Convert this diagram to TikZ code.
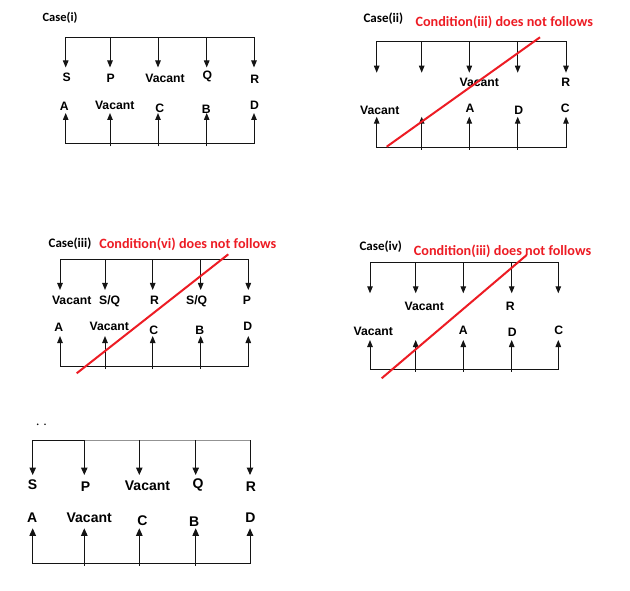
\documentclass[tikz,border=0pt]{standalone}
\usepackage{fontspec}
\newfontfamily\arialf{Liberation Sans}
\newfontfamily\calif{Carlito}
\usetikzlibrary{arrows.meta}
\definecolor{redx}{RGB}{237,28,36}
\definecolor{lnc}{RGB}{20,20,20}
\begin{document}
\begin{tikzpicture}[x=1pt,y=-1pt,
  ln/.style={draw=lnc,line width=1pt,line join=miter},
  tip/.style={-{Triangle[length=7pt,width=5.5pt]}},
  bigtip/.style={-{Triangle[length=7.5pt,width=6.5pt]}},
  tips/.style={{Triangle[length=7pt,width=5.5pt]}-{Triangle[length=7pt,width=5.5pt]}},
  bigtips/.style={{Triangle[length=7.5pt,width=6.5pt]}-{Triangle[length=7.5pt,width=6.5pt]}},
  lbl/.style={font=\arialf\bfseries\fontsize{12.2}{14}\selectfont,inner sep=0pt,text height=8.7pt,text depth=0pt,anchor=center},
  biglbl/.style={font=\arialf\bfseries\fontsize{14}{16}\selectfont,inner sep=0pt,text height=10pt,text depth=0pt,anchor=center},
  ttl/.style={font=\calif\bfseries\fontsize{13}{15}\selectfont,inner sep=0pt},
  cond/.style={font=\calif\bfseries\fontsize{14.2}{16}\selectfont,inner sep=0pt,text=redx},
  cross/.style={draw=redx,line width=2pt}]
\useasboundingbox[fill=white] (0,0) rectangle (630,591);

% ---------- Case(i) ----------
\node[ttl,font=\calif\bfseries\fontsize{12.5}{15}\selectfont] (t1) at (60,18) {Case(i)};
\draw[ln,tips] (65.7,67.5) -- (65.7,38) -- (254,38) -- (254,67.5);
\foreach \x in {110,158,206.7} \draw[ln,tip] (\x,38) -- (\x,67.5);
\draw[ln,tips] (65.7,113) -- (65.7,144) -- (254,144) -- (254,113);
\foreach \x in {110,158,206.7} \draw[ln,tip] (\x,146.5) -- (\x,113);
\node[lbl] (i-S) at (66.7,76.7) {S};
\node[lbl] (i-P) at (110.7,78) {P};
\node[lbl] (i-V1) at (165,78.3) {Vacant};
\node[lbl] (i-Q) at (207.3,75.5) {Q};
\node[lbl] (i-R) at (254.7,79) {R};
\node[lbl] (i-A) at (64.3,105.8) {A};
\node[lbl] (i-V2) at (114.7,105) {Vacant};
\node[lbl] (i-C) at (159.7,108.3) {C};
\node[lbl] (i-B) at (206.2,109) {B};
\node[lbl] (i-D) at (254.5,105) {D};

% ---------- Case(ii) ----------
\node[ttl] (t2) at (383.3,19) {Case(ii)};
\node[cond] (c2) at (504.2,22.5) {Condition(iii) does not follows};
\draw[ln,tips] (376.7,72.7) -- (376.7,41.7) -- (566,41.7) -- (566,72.7);
\foreach \x in {421.7,469.3,517.7} \draw[ln,tip] (\x,41.7) -- (\x,72.7);
\draw[ln,tips] (376.7,116.7) -- (376.7,147.7) -- (566,147.7) -- (566,116.7);
\foreach \x in {421.7,469.3,517.7} \draw[ln,tip] (\x,150) -- (\x,116.7);
\node[lbl] (ii-V1) at (479.2,81.8) {Vacant};
\node[lbl] (ii-R) at (565.8,81.7) {R};
\node[lbl] (ii-V2) at (379.7,110.2) {Vacant};
\node[lbl] (ii-A) at (470,108.5) {A};
\node[lbl] (ii-D) at (518.7,110.2) {D};
\node[lbl] (ii-C) at (565.3,108.2) {C};
\draw[cross] (386.7,146.7) -- (540,37.3);

% ---------- Case(iii) ----------
\node[ttl] (t3) at (70,243.3) {Case(iii)};
\node[cond] (c3) at (187.8,244.7) {Condition(vi) does not follows};
\draw[ln,tips] (60,290) -- (60,259.3) -- (248.3,259.3) -- (248.3,290);
\foreach \x in {105,152.7,200.7} \draw[ln,tip] (\x,259.3) -- (\x,290);
\draw[ln,tips] (60,336) -- (60,366.7) -- (248.3,366.7) -- (248.3,336);
\foreach \x in {105,152.7,200.7} \draw[ln,tip] (\x,369) -- (\x,336);
\node[lbl] (iii-V1) at (71.7,299.7) {Vacant};
\node[lbl] (iii-SQ1) at (109.7,300) {S/Q};
\node[lbl] (iii-R) at (154.5,300.5) {R};
\node[lbl] (iii-SQ2) at (196.7,300) {S/Q};
\node[lbl] (iii-P) at (247,300.5) {P};
\node[lbl] (iii-A) at (58.8,327.5) {A};
\node[lbl] (iii-V2) at (109.3,326.3) {Vacant};
\node[lbl] (iii-C) at (153.8,330) {C};
\node[lbl] (iii-B) at (199.7,330.5) {B};
\node[lbl] (iii-D) at (247.8,326.3) {D};
\draw[cross] (76.7,373.3) -- (228.3,254.3);

% ---------- Case(iv) ----------
\node[ttl] (t4) at (380.8,246.7) {Case(iv)};
\node[cond] (c4) at (502.5,251.7) {Condition(iii) does not follows};
\draw[ln,tips] (370,293.3) -- (370,262.7) -- (558.3,262.7) -- (558.3,293.3);
\foreach \x in {415.7,463.3,511.7} \draw[ln,tip] (\x,262.7) -- (\x,293.3);
\draw[ln,tips] (370,340) -- (370,369.3) -- (558.3,369.3) -- (558.3,340);
\foreach \x in {415.7,463.3,511.7} \draw[ln,tip] (\x,371.7) -- (\x,340);
\node[lbl] (iv-V1) at (424.2,306.2) {Vacant};
\node[lbl] (iv-R) at (510.3,305.8) {R};
\node[lbl] (iv-V2) at (373.3,331.3) {Vacant};
\node[lbl] (iv-A) at (463.3,330) {A};
\node[lbl] (iv-D) at (512.2,331.7) {D};
\node[lbl] (iv-C) at (558.7,330) {C};
\draw[cross] (381.7,378.3) -- (526.7,255);

% ---------- bottom case ----------
\fill[lnc] (37.7,424.3) circle (0.9);
\fill[lnc] (45,424.3) circle (0.9);
\draw[ln,{Triangle[length=7.5pt,width=6.5pt]}-] (32.7,475) -- (32.7,440) -- (85,440);
\draw[draw=gray!85,line width=1pt] (85,440) -- (250,440);
\draw[ln,bigtip] (250,440) -- (250,475);
\foreach \x in {84.3,139.3,195.7} \draw[ln,bigtip] (\x,440) -- (\x,475);
\draw[ln,bigtips] (32.7,528.3) -- (32.7,563.3) -- (250,563.3) -- (250,528.3);
\foreach \x in {84.3,139.3,195.7} \draw[ln,bigtip] (\x,565.7) -- (\x,528.3);
\node[biglbl] (v-S) at (32.5,484) {S};
\node[biglbl] (v-P) at (85.5,486) {P};
\node[biglbl] (v-V1) at (147.5,485.7) {Vacant};
\node[biglbl] (v-Q) at (198,483.5) {Q};
\node[biglbl] (v-R) at (251,486) {R};
\node[biglbl] (v-A) at (32.2,517.7) {A};
\node[biglbl] (v-V2) at (89.2,517) {Vacant};
\node[biglbl] (v-C) at (142.5,520.2) {C};
\node[biglbl] (v-B) at (194.2,521) {B};
\node[biglbl] (v-D) at (250.5,517) {D};
\end{tikzpicture}
\end{document}
